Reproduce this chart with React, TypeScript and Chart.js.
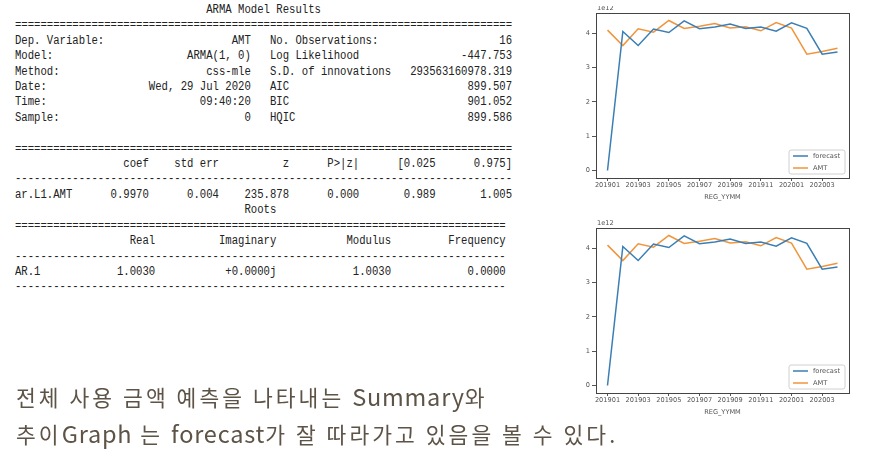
import React, { useEffect, useRef } from "react";
import { Chart, registerables } from "chart.js";

Chart.register(...registerables);

// ---------- data ----------
const months = [
  "201901", "201902", "201903", "201904", "201905", "201906", "201907", "201908",
  "201909", "201910", "201911", "201912", "202001", "202002", "202003", "202004",
];
const xTickIndex = [0, 2, 4, 6, 8, 10, 12, 14];
const yTicks = [0, 1, 2, 3, 4];
const yOffsetLabel = "1e12";
// values in units of 1e12
const forecast = [0, 4.05, 3.64, 4.12, 4.02, 4.36, 4.13, 4.18, 4.27, 4.14, 4.18, 4.06, 4.3, 4.14, 3.39, 3.45];
const amt = [4.09, 3.64, 4.13, 4.03, 4.37, 4.14, 4.2, 4.28, 4.15, 4.19, 4.07, 4.31, 4.15, 3.39, 3.47, 3.56];
const seriesLabels = ["forecast", "AMT"];
const xTitle = "REG_YYMM";

// ---------- summary text ----------
const summaryTitle = "ARMA Model Results";
const infoLeftLabels = ["Dep. Variable:", "Model:", "Method:", "Date:", "Time:", "Sample:"];
const infoLeftValues = ["AMT", "ARMA(1, 0)", "css-mle", "Wed, 29 Jul 2020", "09:40:20", "0"];
const infoRightLabels = ["No. Observations:", "Log Likelihood", "S.D. of innovations", "AIC", "BIC", "HQIC"];
const infoRightValues = ["16", "-447.753", "293563160978.319", "899.507", "901.052", "899.586"];
const coefHeaders = ["coef", "std err", "z", "P>|z|", "[0.025", "0.975]"];
const coefName = "ar.L1.AMT";
const coefValues = ["0.9970", "0.004", "235.878", "0.000", "0.989", "1.005"];
const rootsTitle = "Roots";
const rootsHeaders = ["Real", "Imaginary", "Modulus", "Frequency"];
const rootsName = "AR.1";
const rootsValues = ["1.0030", "+0.0000j", "1.0030", "0.0000"];

const captionLines = [
  "전체 사용 금액 예측을 나타내는 Summary와",
  "추이Graph 는 forecast가 잘 따라가고 있음을 볼 수 있다.",
];

const lpad = (s: string, n: number) => " ".repeat(Math.max(0, n - s.length)) + s;
const cols = (name: string, vals: string[], ends: number[]) => {
  let s = name;
  vals.forEach((v, i) => {
    s = s + lpad(v, ends[i] - s.length);
  });
  return s;
};

function buildSummary(): string {
  const W = 78;
  const lines: string[] = [];
  const tpad = Math.floor((W - summaryTitle.length) / 2);
  lines.push(" ".repeat(tpad) + summaryTitle);
  lines.push("=".repeat(W));
  for (let i = 0; i < infoLeftLabels.length; i++) {
    const l = infoLeftLabels[i] + lpad(infoLeftValues[i], 37 - infoLeftLabels[i].length);
    const r = infoRightLabels[i] + lpad(infoRightValues[i], 38 - infoRightLabels[i].length);
    lines.push(l + "   " + r);
  }
  lines.push("");
  lines.push("=".repeat(W));
  const coefEnds = [21, 32, 43, 54, 66, 78];
  lines.push(cols("", coefHeaders, coefEnds));
  lines.push("-".repeat(W));
  lines.push(cols(coefName, coefValues, coefEnds));
  lines.push(" ".repeat(Math.floor((77 - rootsTitle.length) / 2)) + rootsTitle);
  lines.push("=".repeat(77));
  const rootEnds = [22, 41, 59, 77];
  lines.push(cols("", rootsHeaders, rootEnds));
  lines.push("-".repeat(77));
  lines.push(cols(rootsName, rootsValues, rootEnds));
  lines.push("-".repeat(77));
  return lines.join("\n");
}

// ---------- chart ----------
const BLUE = "#3a7eb4";
const ORANGE = "#f0953c";
const TICK_COLOR = "#555555";
const FRAME_COLOR = "#444444";
const FONT_FAMILY = "'DejaVu Sans', sans-serif";

const decorPlugin = {
  id: "decor",
  afterDraw(chart: any) {
    const { ctx, chartArea } = chart;
    const { left, right, top, bottom } = chartArea;
    ctx.save();
    // frame
    ctx.strokeStyle = FRAME_COLOR;
    ctx.lineWidth = 1;
    ctx.strokeRect(Math.round(left) + 0.5, Math.round(top) + 0.5, Math.round(right - left), Math.round(bottom - top));
    // offset label
    ctx.fillStyle = TICK_COLOR;
    ctx.font = `6.7px ${FONT_FAMILY}`;
    ctx.textAlign = "left";
    ctx.textBaseline = "middle";
    ctx.fillText(yOffsetLabel, left + 1, top - 4.5);
    // legend
    const bw = 56, bh = 24;
    const bx = right - 4 - bw, by = bottom - 4 - bh;
    ctx.fillStyle = "rgba(255,255,255,0.85)";
    ctx.strokeStyle = "#d0d0d0";
    ctx.lineWidth = 1;
    ctx.beginPath();
    const r = 2;
    ctx.moveTo(bx + r, by);
    ctx.lineTo(bx + bw - r, by);
    ctx.quadraticCurveTo(bx + bw, by, bx + bw, by + r);
    ctx.lineTo(bx + bw, by + bh - r);
    ctx.quadraticCurveTo(bx + bw, by + bh, bx + bw - r, by + bh);
    ctx.lineTo(bx + r, by + bh);
    ctx.quadraticCurveTo(bx, by + bh, bx, by + bh - r);
    ctx.lineTo(bx, by + r);
    ctx.quadraticCurveTo(bx, by, bx + r, by);
    ctx.closePath();
    ctx.fill();
    ctx.stroke();
    chart.data.datasets.forEach((ds: any, i: number) => {
      const y = by + 6 + i * 12;
      ctx.strokeStyle = ds.borderColor;
      ctx.lineWidth = 1.5;
      ctx.beginPath();
      ctx.moveTo(bx + 4, y);
      ctx.lineTo(bx + 19, y);
      ctx.stroke();
      ctx.fillStyle = TICK_COLOR;
      ctx.font = `6.7px ${FONT_FAMILY}`;
      ctx.textBaseline = "middle";
      ctx.fillText(ds.label, bx + 24, y);
    });
    ctx.restore();
  },
};

function makeConfig(): any {
  const font = { family: FONT_FAMILY, size: 6.6 };
  return {
    type: "line",
    data: {
      datasets: [
        {
          label: seriesLabels[0],
          data: forecast.map((v, i) => ({ x: i, y: v })),
          borderColor: BLUE,
          borderWidth: 1.5,
          pointRadius: 0,
          tension: 0,
          fill: false,
        },
        {
          label: seriesLabels[1],
          data: amt.map((v, i) => ({ x: i, y: v })),
          borderColor: ORANGE,
          borderWidth: 1.5,
          pointRadius: 0,
          tension: 0,
          fill: false,
        },
      ],
    },
    options: {
      animation: false,
      responsive: false,
      devicePixelRatio: 1,
      layout: { padding: { left: 0, right: 11, top: 23, bottom: 0 } },
      plugins: { legend: { display: false }, tooltip: { enabled: false } },
      scales: {
        x: {
          type: "linear",
          min: -0.75,
          max: 15.75,
          afterBuildTicks: (s: any) => {
            s.ticks = xTickIndex.map((v) => ({ value: v }));
          },
          afterFit: (s: any) => {
            s.height = 27;
          },
          ticks: {
            callback: (v: number) => months[v],
            font,
            color: TICK_COLOR,
            padding: 0,
            maxRotation: 0,
            autoSkip: false,
          },
          grid: { drawOnChartArea: false, drawTicks: true, tickLength: 3, tickColor: TICK_COLOR },
          border: { display: false },
          title: {
            display: true,
            text: xTitle,
            font,
            color: TICK_COLOR,
            padding: { top: 0, bottom: 4 },
          },
        },
        y: {
          type: "linear",
          min: -0.2185,
          max: 4.5885,
          afterBuildTicks: (s: any) => {
            s.ticks = yTicks.map((v) => ({ value: v }));
          },
          afterFit: (s: any) => {
            s.width = 36;
          },
          ticks: { callback: (v: number) => String(v), font, color: TICK_COLOR, padding: 2 },
          grid: { drawOnChartArea: false, drawTicks: true, tickLength: 4, tickColor: TICK_COLOR },
          border: { display: false },
        },
      },
    },
    plugins: [decorPlugin],
  };
}

function LineChart() {
  const ref = useRef<HTMLCanvasElement | null>(null);
  useEffect(() => {
    if (!ref.current) return;
    const chart = new Chart(ref.current, makeConfig());
    return () => chart.destroy();
  }, []);
  return <canvas ref={ref} width={300} height={215} style={{ width: 300, height: 215, display: "block" }} />;
}

function CaptionLine({ text }: { text: string }) {
  const parts = text.split(/([A-Za-z]+)/).filter((p) => p.length > 0);
  return (
    <div>
      {parts.map((p, i) =>
        /^[A-Za-z]+$/.test(p) ? (
          <span key={i} style={{ fontSize: "23.5px", letterSpacing: "0.8px" }}>
            {p}
          </span>
        ) : (
          <span key={i}>{p}</span>
        )
      )}
    </div>
  );
}

export default function App() {
  const summary = buildSummary();
  return (
    <div
      style={{
        position: "absolute",
        left: 0,
        top: 0,
        width: 881,
        height: 466,
        background: "#ffffff",
        overflow: "hidden",
      }}
    >
      <pre
        style={{
          position: "absolute",
          left: 15,
          top: 3,
          margin: 0,
          fontFamily: "'Liberation Mono', monospace",
          fontSize: "12.5px",
          lineHeight: "15.4px",
          color: "#222222",
          whiteSpace: "pre",
          transform: "scaleX(0.8496)",
          transformOrigin: "0 0",
        }}
      >
        {summary}
      </pre>
      <div style={{ position: "absolute", left: 560, top: 6, width: 300, height: 199, overflow: "hidden" }}>
        <div style={{ position: "absolute", left: 0, top: -16 }}>
          <LineChart />
        </div>
      </div>
      <div style={{ position: "absolute", left: 560, top: 205 }}>
        <LineChart />
      </div>
      <div
        style={{
          position: "absolute",
          left: 16,
          top: 378,
          fontFamily: "'Noto Sans CJK KR', 'Noto Sans', sans-serif",
          fontSize: "21.5px",
          lineHeight: "37px",
          letterSpacing: "3.05px",
          color: "#5d5346",
          whiteSpace: "nowrap",
        }}
      >
        {captionLines.map((t, i) => (
          <CaptionLine key={i} text={t} />
        ))}
      </div>
    </div>
  );
}
